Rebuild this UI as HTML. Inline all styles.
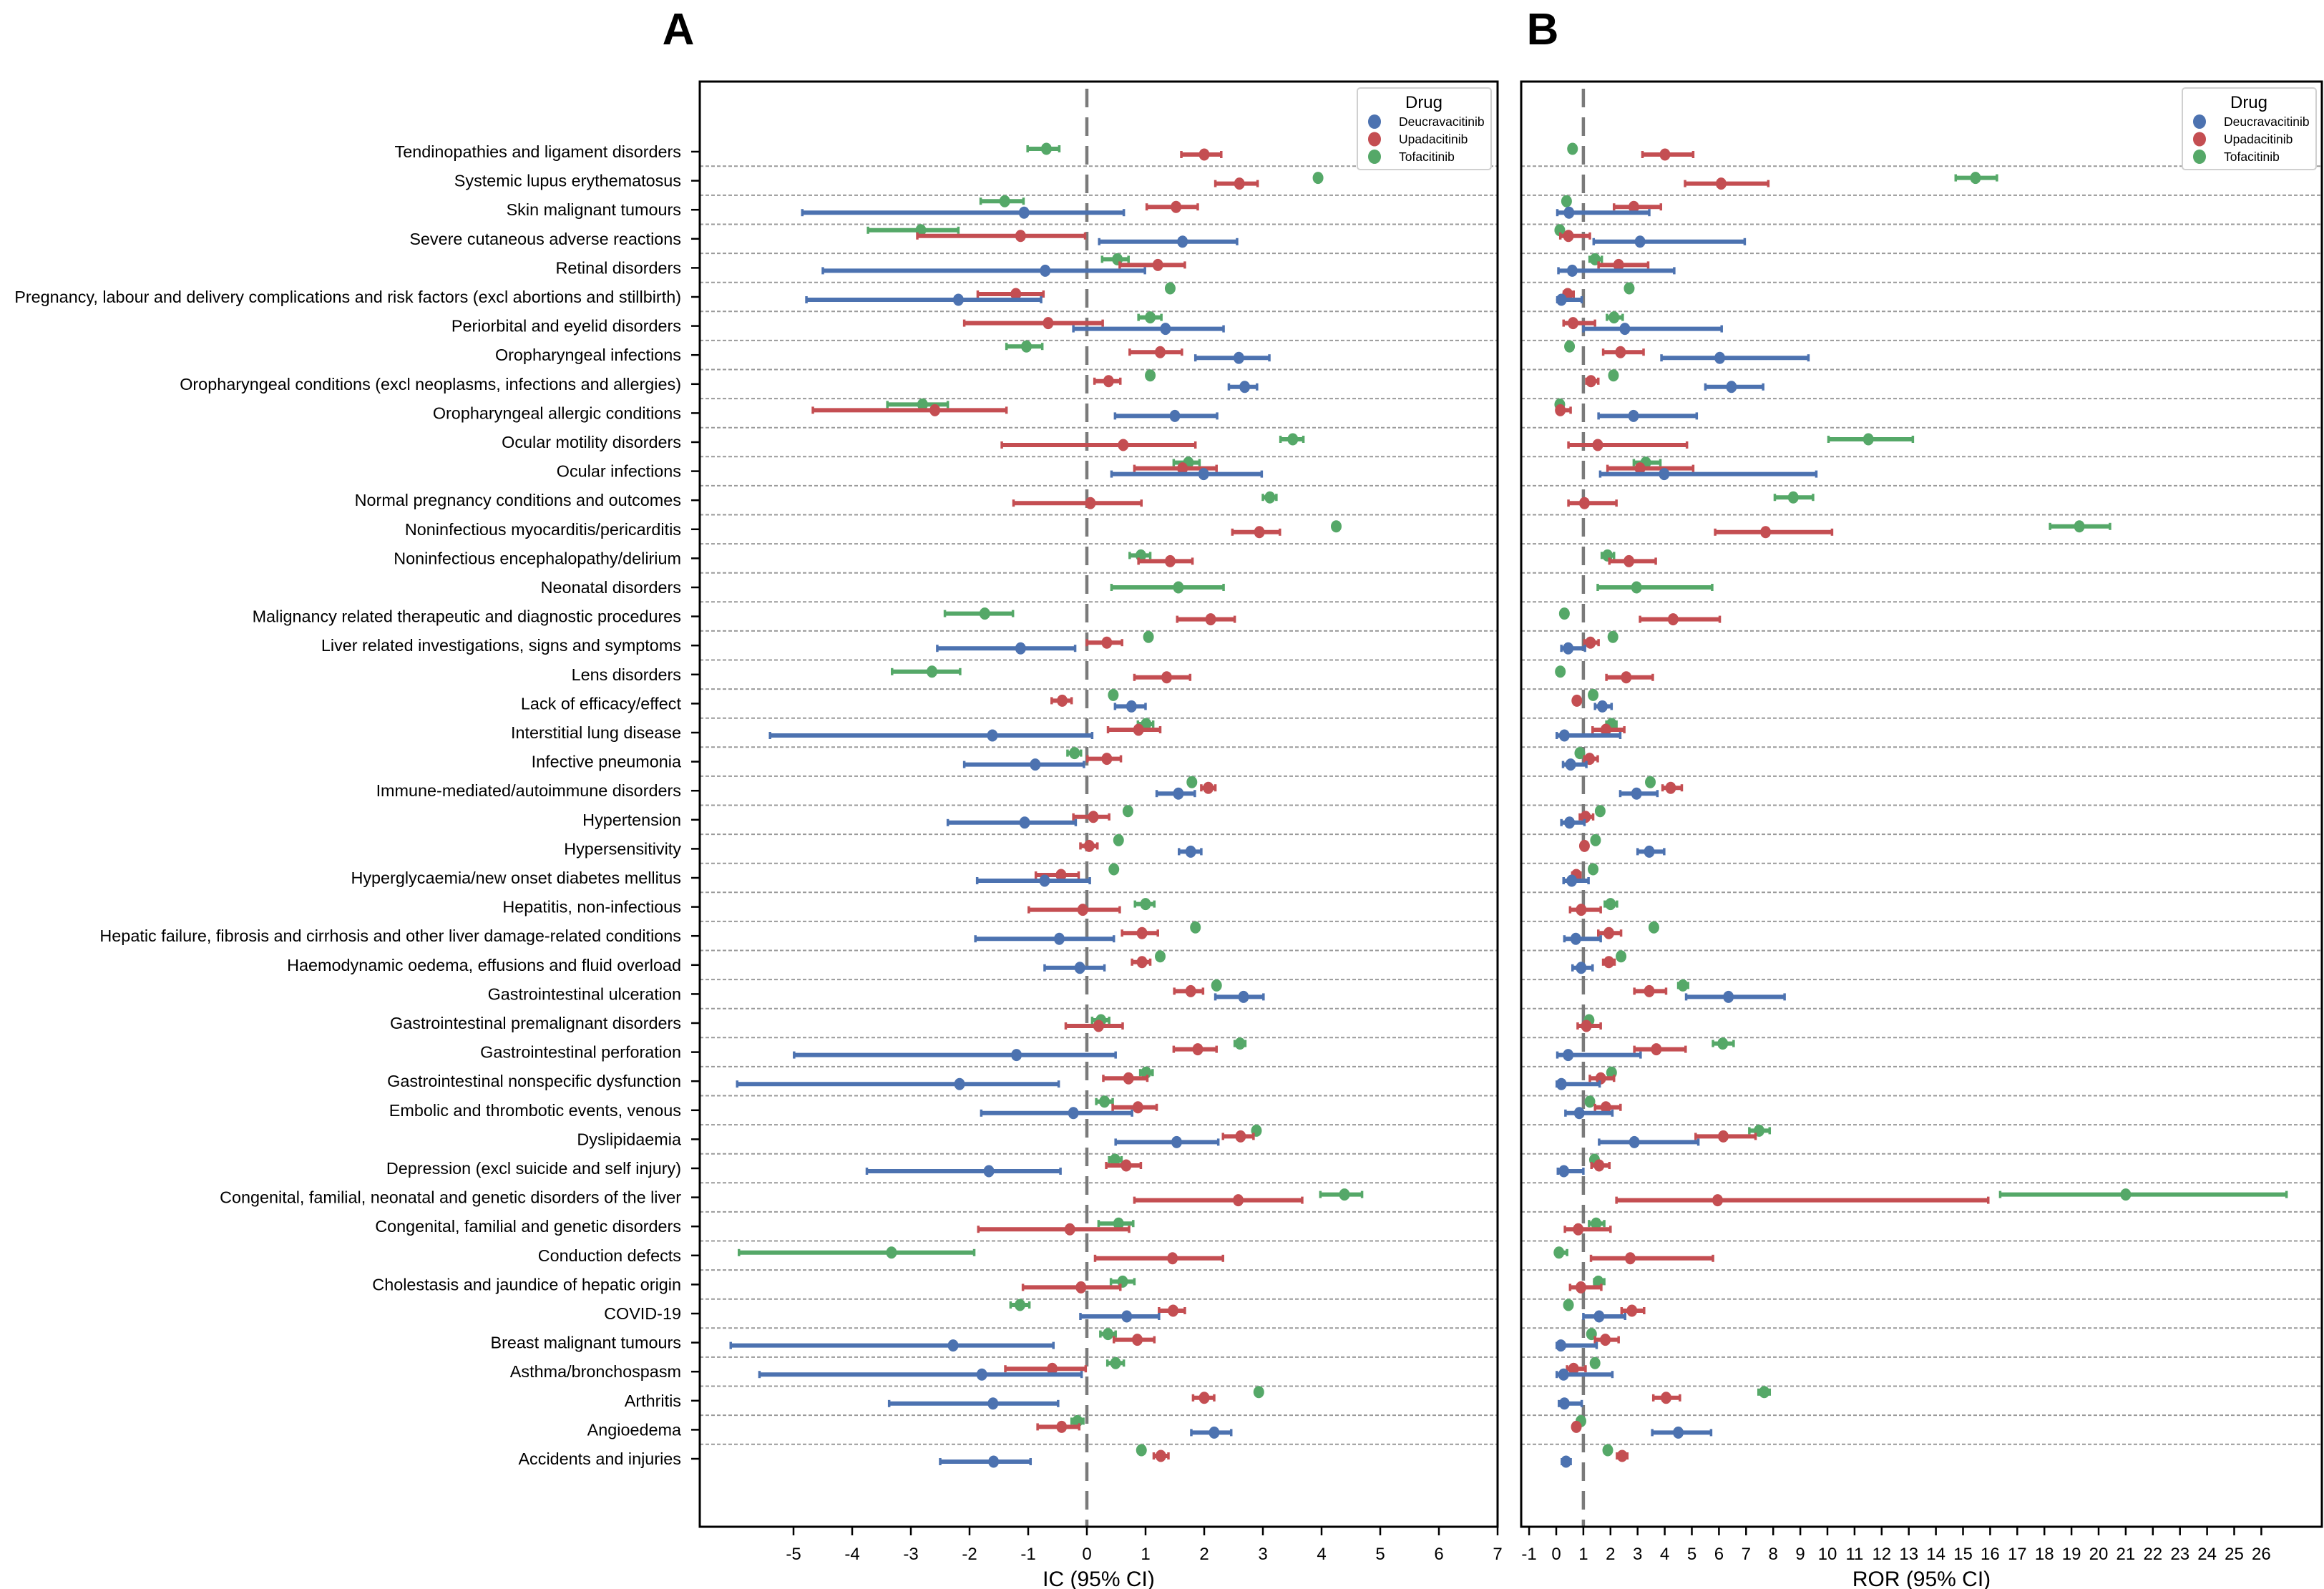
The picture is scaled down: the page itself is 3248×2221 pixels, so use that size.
<!DOCTYPE html>
<html><head><meta charset="utf-8"><title>Forest plots IC and ROR</title>
<style>
html,body{margin:0;padding:0;background:#fff;}
svg{display:block;font-family:"Liberation Sans",Arial,sans-serif;}
</style></head>
<body>
<svg id="chart" width="3248" height="2221" viewBox="0 0 3248 2221" xmlns="http://www.w3.org/2000/svg">
<rect x="0" y="0" width="3248" height="2221" fill="#fff"/>
<text x="948" y="62" font-size="62" font-weight="bold" text-anchor="middle">A</text>
<text x="2156" y="62" font-size="62" font-weight="bold" text-anchor="middle">B</text>
<g id="gA"></g>
<g id="gB"></g>
<g id="gLabels"></g>
</svg>
<script>
const categories = ["Tendinopathies and ligament disorders","Systemic lupus erythematosus","Skin malignant tumours","Severe cutaneous adverse reactions","Retinal disorders","Pregnancy, labour and delivery complications and risk factors (excl abortions and stillbirth)","Periorbital and eyelid disorders","Oropharyngeal infections","Oropharyngeal conditions (excl neoplasms, infections and allergies)","Oropharyngeal allergic conditions","Ocular motility disorders","Ocular infections","Normal pregnancy conditions and outcomes","Noninfectious myocarditis/pericarditis","Noninfectious encephalopathy/delirium","Neonatal disorders","Malignancy related therapeutic and diagnostic procedures","Liver related investigations, signs and symptoms","Lens disorders","Lack of efficacy/effect","Interstitial lung disease","Infective pneumonia","Immune-mediated/autoimmune disorders","Hypertension","Hypersensitivity","Hyperglycaemia/new onset diabetes mellitus","Hepatitis, non-infectious","Hepatic failure, fibrosis and cirrhosis and other liver damage-related conditions","Haemodynamic oedema, effusions and fluid overload","Gastrointestinal ulceration","Gastrointestinal premalignant disorders","Gastrointestinal perforation","Gastrointestinal nonspecific dysfunction","Embolic and thrombotic events, venous","Dyslipidaemia","Depression (excl suicide and self injury)","Congenital, familial, neonatal and genetic disorders of the liver","Congenital, familial and genetic disorders","Conduction defects","Cholestasis and jaundice of hepatic origin","COVID-19","Breast malignant tumours","Asthma/bronchospasm","Arthritis","Angioedema","Accidents and injuries"];
const drugs = ["Deucravacitinib","Upadacitinib","Tofacitinib"];
const icTicks = [-5,-4,-3,-2,-1,0,1,2,3,4,5,6,7];
const rorTicks = [-1,0,1,2,3,4,5,6,7,8,9,10,11,12,13,14,15,16,17,18,19,20,21,22,23,24,25,26];
const N=null;
// IC Tofacitinib
const icTofaEst=[-0.69,3.94,-1.40,-2.83,0.52,1.42,1.08,-1.03,1.08,-2.8,3.51,1.73,3.12,4.25,0.92,1.56,-1.74,1.05,-2.64,0.45,1.01,-0.21,1.79,0.7,0.54,0.46,1.0,1.85,1.25,2.21,0.24,2.61,1.01,0.3,2.89,0.48,4.39,0.54,-3.33,0.61,-1.14,0.36,0.49,2.93,-0.16,0.93];
const icTofaLo=[-1.01,3.9,-1.81,-3.73,0.26,1.38,0.88,-1.37,1.04,-3.4,3.30,1.48,3.0,4.21,0.73,0.42,-2.42,1.01,-3.32,0.41,0.87,-0.33,1.75,0.66,0.5,0.42,0.82,1.81,1.21,2.17,0.09,2.52,0.91,0.16,2.85,0.38,3.98,0.2,-5.93,0.41,-1.3,0.23,0.35,2.89,-0.26,0.89];
const icTofaHi=[-0.47,3.98,-1.08,-2.19,0.71,1.46,1.27,-0.76,1.12,-2.37,3.69,1.92,3.23,4.29,1.08,2.33,-1.26,1.09,-2.16,0.49,1.13,-0.1,1.83,0.74,0.58,0.5,1.15,1.89,1.29,2.25,0.38,2.7,1.12,0.44,2.93,0.59,4.69,0.79,-1.92,0.81,-0.98,0.49,0.63,2.97,-0.06,0.97];
// IC Upadacitinib
const icUpaEst=[2.0,2.6,1.52,-1.13,1.21,-1.21,-0.66,1.25,0.37,-2.59,0.62,1.63,0.06,2.94,1.42,N,2.11,0.34,1.36,-0.42,0.88,0.34,2.07,0.11,0.04,-0.44,-0.07,0.94,0.94,1.77,0.2,1.89,0.71,0.87,2.62,0.67,2.58,-0.29,1.46,-0.1,1.47,0.86,-0.59,2.0,-0.43,1.26];
const icUpaLo=[1.61,2.19,1.02,-2.89,0.56,-1.86,-2.09,0.73,0.13,-4.67,-1.45,0.81,-1.25,2.48,0.88,N,1.54,0.0,0.81,-0.6,0.36,0.01,1.95,-0.23,-0.11,-0.87,-0.99,0.6,0.77,1.49,-0.36,1.48,0.28,0.44,2.32,0.33,0.81,-1.85,0.14,-1.09,1.23,0.46,-1.39,1.81,-0.84,1.14];
const icUpaHi=[2.29,2.91,1.89,-0.03,1.67,-0.74,0.27,1.62,0.57,-1.37,1.85,2.21,0.93,3.29,1.8,N,2.52,0.6,1.76,-0.26,1.25,0.58,2.19,0.38,0.18,-0.14,0.56,1.21,1.08,1.98,0.61,2.21,1.03,1.19,2.84,0.92,3.67,0.72,2.32,0.57,1.67,1.15,-0.02,2.17,-0.13,1.39];
// IC Deucravacitinib
const icDeuEst=[N,N,-1.07,1.63,-0.71,-2.19,1.34,2.59,2.69,1.5,N,1.99,N,N,N,N,N,-1.13,N,0.76,-1.61,-0.88,1.56,-1.06,1.77,-0.72,N,-0.47,-0.12,2.67,N,-1.2,-2.17,-0.23,1.53,-1.67,N,N,N,N,0.68,-2.28,-1.79,-1.6,2.17,-1.59];
const icDeuLo=[N,N,-4.85,0.21,-4.5,-4.78,-0.23,1.85,2.42,0.48,N,0.42,N,N,N,N,N,-2.55,N,0.48,-5.4,-2.09,1.19,-2.37,1.57,-1.87,N,-1.9,-0.72,2.19,N,-4.99,-5.96,-1.8,0.49,-3.75,N,N,N,N,-0.11,-6.07,-5.58,-3.37,1.78,-2.5];
const icDeuHi=[N,N,0.63,2.56,0.99,-0.78,2.33,3.11,2.9,2.22,N,2.98,N,N,N,N,N,-0.2,N,1.0,0.09,-0.05,1.84,-0.19,1.95,0.05,N,0.46,0.3,3.01,N,0.49,-0.48,0.77,2.24,-0.45,N,N,N,N,1.23,-0.57,-0.09,-0.49,2.46,-0.96];
// ROR Tofacitinib
const rorTofaEst=[0.6,15.46,0.38,0.13,1.43,2.69,2.13,0.49,2.11,0.13,11.51,3.3,8.74,19.29,1.89,2.96,0.3,2.09,0.15,1.36,2.04,0.87,3.47,1.62,1.45,1.36,2.0,3.6,2.39,4.67,1.21,6.14,2.04,1.24,7.48,1.41,21.0,1.47,0.1,1.55,0.45,1.3,1.43,7.67,0.91,1.9];
const rorTofaLo=[0.6,14.73,0.38,0.13,1.23,2.69,1.87,0.49,2.11,0.13,10.04,2.86,8.06,18.21,1.68,1.53,0.3,2.09,0.15,1.36,1.85,0.87,3.47,1.62,1.45,1.36,1.79,3.6,2.39,4.5,1.1,5.78,2.04,1.24,7.12,1.41,16.37,1.21,0.02,1.4,0.45,1.3,1.43,7.46,0.91,1.9];
const rorTofaHi=[0.6,16.25,0.38,0.13,1.68,2.69,2.45,0.49,2.11,0.13,13.15,3.84,9.47,20.42,2.13,5.75,0.3,2.09,0.15,1.36,2.22,0.87,3.47,1.62,1.45,1.36,2.24,3.6,2.39,4.86,1.32,6.54,2.04,1.24,7.87,1.41,26.93,1.77,0.4,1.77,0.45,1.3,1.43,7.87,0.91,1.9];
// ROR Upadacitinib
const rorUpaEst=[4.01,6.08,2.86,0.45,2.3,0.42,0.62,2.37,1.28,0.15,1.53,3.09,1.04,7.72,2.68,N,4.31,1.26,2.58,0.76,1.83,1.23,4.22,1.08,1.04,0.74,0.92,1.94,1.94,3.43,1.11,3.69,1.64,1.83,6.16,1.58,5.95,0.81,2.73,0.91,2.79,1.81,0.64,4.05,0.74,2.43];
const rorUpaLo=[3.18,4.75,2.13,0.15,1.56,0.28,0.27,1.73,1.11,0.06,0.45,1.89,0.45,5.86,1.96,N,3.09,1.04,1.85,0.76,1.34,1.04,3.92,0.87,1.04,0.59,0.51,1.55,1.73,2.88,0.79,2.88,1.24,1.43,5.14,1.3,2.22,0.32,1.28,0.51,2.41,1.43,0.4,3.58,0.74,2.24];
const rorUpaHi=[5.05,7.82,3.86,1.24,3.39,0.64,1.43,3.22,1.55,0.53,4.82,5.05,2.22,10.17,3.67,N,6.03,1.56,3.56,0.76,2.51,1.53,4.63,1.36,1.04,0.89,1.64,2.39,2.15,4.05,1.64,4.77,2.13,2.37,7.35,1.96,15.93,2.0,5.78,1.66,3.24,2.3,1.08,4.56,0.74,2.62];
// ROR Deucravacitinib
const rorDeuEst=[N,N,0.47,3.09,0.59,0.19,2.53,6.03,6.46,2.85,N,3.98,N,N,N,N,N,0.44,N,1.7,0.3,0.53,2.96,0.49,3.43,0.57,N,0.72,0.92,6.35,N,0.44,0.19,0.85,2.88,0.28,N,N,N,N,1.58,0.17,0.27,0.3,4.5,0.36];
const rorDeuLo=[N,N,0.04,1.38,0.08,0.04,1.0,3.88,5.5,1.56,N,1.62,N,N,N,N,N,0.19,N,1.43,0.02,0.25,2.36,0.19,3.0,0.27,N,0.3,0.6,4.79,N,0.04,0.02,0.34,1.58,0.06,N,N,N,N,1.0,0.02,0.02,0.1,3.54,0.21];
const rorDeuHi=[N,N,3.43,6.95,4.35,0.94,6.1,9.3,7.63,5.18,N,9.59,N,N,N,N,N,1.06,N,2.04,2.36,1.11,3.73,1.04,3.98,1.19,N,1.64,1.34,8.42,N,3.11,1.6,2.07,5.24,1.0,N,N,N,N,2.54,1.49,2.07,0.94,5.71,0.53];

const NS="http://www.w3.org/2000/svg";
const COL={Deucravacitinib:"#4c72b0",Upadacitinib:"#c44e52",Tofacitinib:"#55a868"};
const TOP=114, BOT=2134, Y0=212, DY=40.6;
function yRow(i){return Y0+DY*i;}
function mk(tag,attrs,parent){const e=document.createElementNS(NS,tag);for(const k in attrs)e.setAttribute(k,attrs[k]);parent.appendChild(e);return e;}

const panels=[
 {g:document.getElementById("gA"),left:978,right:2093,zeroPx:1519,unit:82.0,ref:0,ticks:icTicks,title:"IC (95% CI)",legX:1897,
  series:{Deucravacitinib:[icDeuEst,icDeuLo,icDeuHi],Upadacitinib:[icUpaEst,icUpaLo,icUpaHi],Tofacitinib:[icTofaEst,icTofaLo,icTofaHi]}},
 {g:document.getElementById("gB"),left:2126,right:3245,zeroPx:2175,unit:37.9,ref:1,ticks:rorTicks,title:"ROR (95% CI)",legX:3050,
  series:{Deucravacitinib:[rorDeuEst,rorDeuLo,rorDeuHi],Upadacitinib:[rorUpaEst,rorUpaLo,rorUpaHi],Tofacitinib:[rorTofaEst,rorTofaLo,rorTofaHi]}}
];

panels.forEach((p,pi)=>{
  const xs=v=>p.zeroPx+p.unit*v;
  const g=p.g;
  for(let i=0;i<categories.length-1;i++){
    const y=yRow(i)+DY/2;
    const l=mk("line",{x1:p.left,x2:p.right,y1:y,y2:y,stroke:"#9a9a9a","stroke-width":2,"stroke-dasharray":"5,3"},g);
    
    
  }
  const rl=mk("line",{x1:xs(p.ref),x2:xs(p.ref),y1:TOP+10,y2:BOT,stroke:"#7a7a7a","stroke-width":4.5,"stroke-dasharray":"26,14"},g);
  
  
  for(let i=0;i<categories.length;i++){
    const hasB=p.series.Deucravacitinib[0][i]!==null;
    const hasR=p.series.Upadacitinib[0][i]!==null;
    let off;
    if(hasB) off={Tofacitinib:-12,Upadacitinib:-4,Deucravacitinib:4};
    else if(hasR) off={Tofacitinib:-4,Upadacitinib:4,Deucravacitinib:0};
    else off={Tofacitinib:0,Upadacitinib:0,Deucravacitinib:0};
    ["Tofacitinib","Upadacitinib","Deucravacitinib"].forEach(d=>{
      const [est,lo,hi]=p.series[d];
      if(est[i]===null) return;
      const y=yRow(i)+off[d];
      const c=COL[d];
      const grp=mk("g",{},g);
      
      
      if(hi[i]-lo[i]>0.001){
        mk("line",{x1:xs(lo[i]),x2:xs(hi[i]),y1:y,y2:y,stroke:c,"stroke-width":6},grp);
        mk("line",{x1:xs(lo[i]),x2:xs(lo[i]),y1:y-5,y2:y+5,stroke:c,"stroke-width":3.5},grp);
        mk("line",{x1:xs(hi[i]),x2:xs(hi[i]),y1:y-5,y2:y+5,stroke:c,"stroke-width":3.5},grp);
      }
      mk("ellipse",{cx:xs(est[i]),cy:y,rx:7.5,ry:8.5,fill:c},grp);
    });
  }
  const fr=mk("rect",{x:p.left,y:TOP,width:p.right-p.left,height:BOT-TOP,fill:"none",stroke:"#000","stroke-width":3},g);
  
  
  p.ticks.forEach(t=>{
    const x=xs(t);
    mk("line",{x1:x,x2:x,y1:BOT,y2:BOT+12,stroke:"#000","stroke-width":2.5},g);
    const tx=mk("text",{x:x,y:BOT+46,"font-size":24,"text-anchor":"middle",fill:"#000"},g);
    tx.textContent=String(t);
    
    
  });
  const tt=mk("text",{x:(p.left+p.right)/2,y:2217,"font-size":30,"text-anchor":"middle",fill:"#000"},g);
  tt.textContent=p.title;
  
  
  const lg=mk("g",{},g);
  
  
  mk("rect",{x:p.legX,y:123,width:187,height:114,rx:4,fill:"#fff",stroke:"#d0d0d0","stroke-width":2},lg);
  const lt=mk("text",{x:p.legX+93,y:151,"font-size":24,"text-anchor":"middle",fill:"#000"},lg);
  lt.textContent="Drug";
  drugs.forEach((d,k)=>{
    const yy=170+k*24.5;
    const le=mk("g",{},lg);
    
    
    mk("ellipse",{cx:p.legX+24,cy:yy,rx:9,ry:10,fill:COL[d]},le);
    const tx=mk("text",{x:p.legX+58,y:yy+6,"font-size":17.5,fill:"#000"},le);
    tx.textContent=d;
  });
});

const gl=document.getElementById("gLabels");
categories.forEach((c,i)=>{
  const y=yRow(i);
  mk("line",{x1:966,x2:978,y1:y,y2:y,stroke:"#000","stroke-width":2.5},gl);
  const t=mk("text",{x:952,y:y+8,"font-size":23.4,"text-anchor":"end",fill:"#000"},gl);
  t.textContent=c;
  
  
});
</script>
</body></html>
